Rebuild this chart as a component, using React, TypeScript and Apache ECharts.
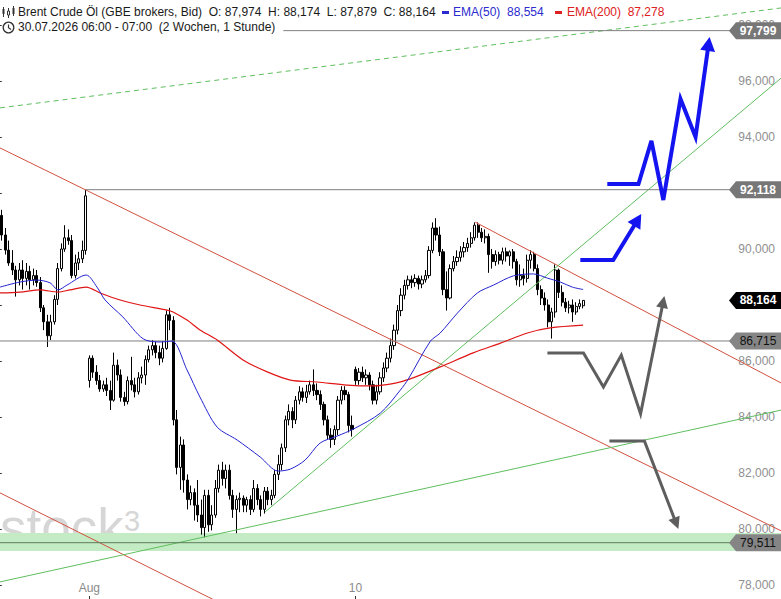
import React, { useEffect, useRef } from 'react';
import * as echarts from 'echarts';

// ---------- data ----------
const SLOT_COUNT = 223; // hourly slots across the full width (candles + projection space)
const PRICE_MIN = 77.5;
const PRICE_MAX = 98.893;

// [open, close, low, high]
const candles: number[][] = [
  [91.2, 90.5, 90.3, 91.4], [90.5, 89.96, 89.8, 90.75], [89.96, 89.5, 89.4, 90.3], [89.5, 89.25, 89.07, 89.96],
  [89.25, 88.9, 88.3, 89.4], [88.9, 89.25, 88.7, 89.5], [89.25, 88.95, 88.55, 89.6], [88.95, 89.2, 88.7, 89.5],
  [89.2, 88.9, 88.55, 89.4], [88.9, 89.05, 88.7, 89.3], [89.05, 88.8, 88.65, 89.25], [88.8, 87.9, 87.75, 89.0],
  [87.9, 87.4, 87.1, 88.0], [87.4, 86.9, 86.5, 87.65], [86.9, 87.4, 86.75, 87.65], [87.4, 88.2, 87.3, 88.35],
  [88.2, 89.3, 88.0, 89.5], [89.3, 90.0, 89.2, 90.2], [90.0, 90.4, 89.9, 90.85], [90.4, 90.3, 90.15, 90.7],
  [90.3, 89.05, 88.95, 90.5], [89.05, 89.5, 88.95, 89.8], [89.5, 89.65, 89.25, 89.9], [89.65, 89.95, 89.5, 90.3],
  [89.95, 91.9, 89.8, 92.118],
  [85.3, 86.1, 85.05, 86.2], [86.1, 85.6, 85.4, 86.2], [85.6, 85.3, 85.15, 85.85], [85.3, 85.0, 84.9, 85.5],
  [85.0, 85.15, 84.9, 85.3], [85.15, 84.95, 84.75, 85.4], [84.95, 84.6, 84.25, 85.3], [84.6, 85.85, 84.55, 86.3],
  [85.85, 85.5, 85.3, 86.05], [85.5, 84.7, 84.55, 85.7], [84.7, 84.55, 84.4, 84.9], [84.55, 85.3, 84.45, 85.45],
  [85.3, 85.15, 84.95, 86.15], [85.15, 84.9, 84.7, 85.4], [84.9, 85.4, 84.8, 85.6], [85.4, 85.5, 85.2, 85.8],
  [85.5, 86.05, 85.15, 86.2], [86.05, 86.4, 85.95, 86.55], [86.4, 86.55, 86.2, 86.75], [86.55, 86.3, 86.1, 86.7],
  [86.3, 86.1, 85.85, 86.55], [86.1, 86.45, 85.95, 86.7], [86.45, 87.65, 86.4, 87.8], [87.65, 87.45, 87.1, 87.9],
  [87.45, 83.9, 83.7, 87.6], [83.9, 82.2, 81.95, 84.25], [82.2, 83.0, 81.4, 83.3], [83.0, 81.75, 81.3, 83.2],
  [81.75, 81.05, 80.7, 81.95], [81.05, 81.3, 80.85, 81.55], [81.3, 80.85, 80.3, 81.45], [80.85, 80.5, 80.25, 81.75],
  [80.5, 80.05, 79.8, 81.05], [80.05, 81.2, 79.7, 81.4], [81.2, 80.15, 79.9, 81.4], [80.15, 80.5, 79.95, 80.85],
  [80.5, 81.45, 80.4, 81.75], [81.45, 82.1, 81.3, 82.3], [82.1, 81.8, 81.55, 82.4], [81.8, 82.1, 81.45, 82.3],
  [82.1, 81.2, 81.05, 82.3], [81.2, 80.7, 80.4, 81.4], [80.7, 81.05, 79.85, 81.2], [81.05, 81.1, 80.6, 81.3],
  [81.1, 80.85, 80.6, 81.2], [80.85, 81.05, 80.6, 81.15], [81.05, 80.7, 80.5, 81.2], [80.7, 81.45, 80.6, 81.75],
  [81.45, 81.05, 80.85, 81.6], [81.05, 80.7, 80.45, 81.2], [80.7, 81.35, 80.55, 81.5], [81.35, 81.05, 80.85, 81.5],
  [81.05, 81.2, 80.85, 81.4], [81.2, 81.95, 81.1, 82.1], [81.95, 82.3, 81.75, 82.65], [82.3, 82.9, 82.1, 83.05],
  [82.9, 83.9, 82.75, 84.05], [83.9, 84.2, 83.7, 84.45], [84.2, 83.9, 83.6, 84.35], [83.9, 84.6, 83.75, 84.75],
  [84.6, 84.9, 84.45, 85.1], [84.9, 84.7, 84.55, 85.05], [84.7, 84.9, 84.5, 85.15], [84.9, 85.15, 84.8, 85.3],
  [85.15, 84.95, 84.75, 85.7], [84.95, 84.8, 84.6, 85.2], [84.8, 84.45, 84.25, 84.95], [84.45, 83.9, 83.7, 84.55],
  [83.9, 83.35, 83.2, 84.05], [83.35, 83.2, 82.9, 83.6], [83.2, 83.55, 83.0, 83.7], [83.55, 84.6, 83.35, 84.75],
  [84.6, 84.95, 84.45, 85.1], [84.95, 84.8, 84.6, 85.1], [84.8, 83.7, 83.45, 84.9], [83.7, 83.55, 83.3, 84.05],
  [85.7, 85.3, 85.15, 85.8], [85.3, 85.6, 85.15, 85.75], [85.6, 85.4, 85.25, 85.8], [85.4, 85.5, 85.15, 85.7],
  [85.5, 85.15, 84.95, 85.6], [85.15, 84.6, 84.45, 85.3], [84.6, 84.9, 84.45, 85.15], [84.9, 85.4, 84.8, 85.6],
  [85.4, 85.75, 85.25, 85.95], [85.75, 86.1, 85.6, 86.3], [86.1, 86.55, 85.95, 86.8], [86.55, 87.1, 86.4, 87.3],
  [87.1, 87.8, 86.95, 88.0], [87.8, 88.35, 87.6, 88.6], [88.35, 88.7, 88.2, 88.9], [88.7, 88.9, 88.55, 89.05],
  [88.9, 88.8, 88.6, 89.05], [88.8, 88.95, 88.65, 89.1], [88.95, 88.75, 88.55, 89.05], [88.75, 88.9, 88.6, 89.05],
  [88.9, 89.05, 88.8, 89.25], [89.05, 89.95, 88.95, 90.1], [89.95, 90.75, 89.85, 90.95], [90.75, 90.5, 90.3, 91.1],
  [90.5, 89.9, 89.75, 90.8], [89.9, 88.55, 88.35, 90.0], [88.55, 88.25, 87.8, 89.2], [88.25, 89.3, 88.2, 89.45],
  [89.3, 89.55, 89.2, 89.75], [89.55, 89.7, 89.4, 89.95], [89.7, 89.9, 89.55, 90.1], [89.9, 90.05, 89.7, 90.25],
  [90.05, 90.2, 89.9, 90.4], [90.2, 90.4, 90.05, 90.6], [90.4, 90.85, 90.3, 90.95], [90.85, 90.6, 90.4, 90.95],
  [90.6, 90.4, 90.25, 90.75], [90.4, 90.45, 90.2, 90.7], [90.45, 89.8, 89.15, 90.55], [89.8, 89.55, 89.3, 90.0],
  [89.55, 89.8, 89.4, 89.95], [89.8, 89.6, 89.45, 89.9], [89.6, 89.9, 89.45, 90.05], [89.9, 89.75, 89.55, 90.05],
  [89.75, 89.9, 89.4, 89.95], [89.9, 89.55, 89.3, 90.0], [89.55, 88.9, 88.7, 89.65], [88.9, 89.05, 88.65, 89.45],
  [89.05, 88.95, 88.7, 89.3], [88.95, 89.6, 88.8, 89.8], [89.6, 89.8, 89.3, 89.95], [89.8, 89.3, 89.2, 89.9],
  [89.3, 88.55, 88.35, 89.45], [88.55, 88.25, 88.0, 88.7], [88.25, 88.0, 87.8, 88.45], [88.0, 87.4, 87.2, 88.2],
  [87.4, 87.75, 86.8, 87.9], [87.75, 89.25, 87.55, 89.45], [89.25, 88.45, 88.25, 89.3], [88.45, 88.1, 87.95, 88.7],
  [88.1, 87.9, 87.75, 88.25], [87.9, 88.0, 87.7, 88.15], [88.0, 87.75, 87.4, 88.2], [87.75, 87.95, 87.65, 88.1],
  [87.95, 88.05, 87.85, 88.2], [87.974, 88.164, 87.879, 88.174],
];

// [slot, price]
const ema50Points: number[][] = [
  [-0.5, 88.64], [5.2, 88.82], [10.1, 88.89], [13.8, 88.79], [16.1, 88.54], [18.6, 88.71], [24.1, 89.07],
  [27.2, 88.64], [29.5, 88.18], [34.6, 87.57], [40.4, 86.79], [45.2, 86.68], [48.6, 86.71], [52.9, 85.68],
  [56.6, 84.71], [61.5, 83.64], [67.2, 83.18], [73.8, 82.57], [78.9, 82.07], [82.4, 82.14], [86.6, 82.46],
  [90.9, 83.07], [95.8, 83.32], [100.4, 83.57], [108.1, 84.14], [113.8, 84.96], [116.1, 85.36], [122.4, 86.71],
  [125.2, 87.0], [130.1, 87.71], [135.8, 88.43], [140.4, 88.71], [146.1, 89.04], [151.8, 89.11], [155.8, 88.96],
  [159.5, 88.82], [162.9, 88.64],
];
const ema200Points: number[][] = [
  [-0.5, 88.43], [5.2, 88.46], [10.9, 88.54], [16.1, 88.46], [19.5, 88.54], [24.1, 88.64], [28.1, 88.43],
  [33.8, 88.18], [39.5, 88.0], [47.2, 87.82], [48.9, 87.75], [52.9, 87.46], [56.6, 87.11], [61.5, 86.75],
  [68.9, 86.04], [75.8, 85.61], [82.4, 85.32], [90.1, 85.25], [98.6, 85.14], [106.1, 85.11], [112.4, 85.21],
  [116.6, 85.36], [125.2, 85.79], [134.6, 86.29], [142.4, 86.64], [150.1, 87.0], [156.6, 87.18],
];
const ema50Last = 88.554;
const ema200Last = 87.278;

const xLabelIndex = [25, 101];
const xLabelText = ['Aug', '10'];
const priceTicks = [78, 80, 82, 84, 86, 88, 90, 92, 94, 96, 98];

const levelValues = [97.799, 92.118, 86.715, 79.511];
const levelFrom = [80.4, 24, -0.5, -0.5];
const supportZone = [79.21, 79.86];

const redTrendLines: number[][][] = [
  [[-0.5, 93.61], [222.6, 79.93]],
  [[135.2, 90.96], [222.6, 85.21]],
  [[-0.5, 81.29], [65.2, 77.18]],
];
const greenTrendLines: number[][][] = [
  [[75.2, 80.61], [222.6, 96.11]],
  [[-0.5, 78.11], [222.6, 84.25]],
];
const greenDashedLine: number[][] = [[-0.5, 95.04], [222.6, 98.61]];

const bullPaths: number[][][] = [
  [[165.2, 89.61], [174.6, 89.61], [182.6, 91.25]],
  [[172.9, 92.32], [181.8, 92.32], [185.5, 93.86], [188.9, 91.75], [193.8, 95.36], [198.1, 94.0], [202.1, 97.57]],
];
const bearPaths: number[][][] = [
  [[155.8, 86.29], [166.1, 86.29], [171.8, 85.07], [176.9, 86.21], [182.4, 84.11], [189.2, 88.32]],
  [[173.5, 83.14], [183.5, 83.14], [193.2, 80.0]],
];

// ---------- helpers ----------
const FONT = 'Arial, "Liberation Sans", sans-serif';
const fmt = (v: number) => v.toFixed(3).replace('.', ',');
const RED_LINE = '#d2503f';
const GREEN_LINE = '#5fbf5f';
const LEVEL_GRAY = '#7f7f7f';

function arrowElements(api: any, pts: number[][], color: string, width: number, headLen: number, headW: number) {
  const px = pts.map((p) => api.coord(p));
  const n = px.length;
  const tip = px[n - 1];
  const prev = px[n - 2];
  const dx = tip[0] - prev[0];
  const dy = tip[1] - prev[1];
  const len = Math.hypot(dx, dy) || 1;
  const ux = dx / len;
  const uy = dy / len;
  const nx = -uy;
  const ny = ux;
  const bx = tip[0] - ux * headLen;
  const by = tip[1] - uy * headLen;
  const linePts = px.slice(0, n - 1).concat([[bx + ux * 2, by + uy * 2]]);
  return [
    {
      type: 'polyline',
      shape: { points: linePts },
      style: { stroke: color, lineWidth: width, fill: 'none', lineJoin: 'miter' },
    },
    {
      type: 'polygon',
      shape: { points: [tip, [bx + (nx * headW) / 2, by + (ny * headW) / 2], [bx - (nx * headW) / 2, by - (ny * headW) / 2]] },
      style: { fill: color },
    },
  ];
}

function segEl(api: any, a: number[], b: number[], stroke: string, width: number, dash?: number[]) {
  const p1 = api.coord(a);
  const p2 = api.coord(b);
  return {
    type: 'line',
    shape: { x1: p1[0], y1: p1[1], x2: p2[0], y2: p2[1] },
    style: { stroke, lineWidth: width, lineDash: dash || null },
  };
}

function buildOption(): any {
  const slots = Array.from({ length: SLOT_COUNT }, (_, i) => String(i));
  const lastIdx = candles.length - 1;
  const last = candles[lastIdx];
  const lastClose = last[1];
  const ema50Data = ema50Points.concat([[lastIdx, ema50Last]]);
  const ema200Data = ema200Points.concat([[lastIdx, ema200Last]]);
  const showIdx = (i: number) => xLabelIndex.indexOf(i) >= 0;

  const tagItems = [
    { v: levelValues[0], bg: '#777777', fg: '#ffffff', bold: true },
    { v: levelValues[1], bg: '#777777', fg: '#ffffff', bold: true },
    { v: lastClose, bg: '#000000', fg: '#ffffff', bold: true },
    { v: levelValues[2], bg: '#858585', fg: '#111111', bold: false },
    { v: levelValues[3], bg: '#858585', fg: '#111111', bold: false },
  ];
  // tick labels that the right-hand tags fully hide are not printed
  const hiddenUnder = [levelValues[1], lastClose];
  const priceLabels = priceTicks.filter((t) => hiddenUnder.every((h) => Math.abs(h - t) > 0.3));

  const overlayBase = {
    type: 'custom',
    coordinateSystem: 'cartesian2d',
    xAxisIndex: 1,
    yAxisIndex: 0,
    data: [[0, 90]],
    encode: { x: 0, y: 1 },
    silent: true,
    clip: false,
    animation: false,
  };

  return {
    animation: false,
    backgroundColor: '#ffffff',
    grid: { left: 0, right: 0, top: 0, bottom: 0, containLabel: false, outerBoundsMode: 'none' },
    xAxis: [
      {
        type: 'category',
        data: slots,
        boundaryGap: true,
        axisLine: { show: false },
        splitLine: { show: false },
        axisTick: {
          show: true,
          inside: true,
          length: 3,
          alignWithLabel: true,
          interval: (i: number) => showIdx(i),
          lineStyle: { color: '#333' },
        },
        axisLabel: {
          show: true,
          inside: true,
          margin: 5,
          interval: (i: number) => showIdx(i),
          formatter: (_v: string, i: number) => {
            const k = xLabelIndex.indexOf(i);
            return k >= 0 ? xLabelText[k] : '';
          },
          color: '#8a8a8a',
          fontSize: 12,
          fontFamily: FONT,
        },
      },
      { type: 'value', min: -0.5, max: SLOT_COUNT - 0.5, show: false },
    ],
    yAxis: {
      type: 'value',
      position: 'right',
      min: PRICE_MIN,
      max: PRICE_MAX,
      axisLine: { show: false },
      splitLine: { show: false },
      axisTick: { show: true, inside: true, length: 4, customValues: priceTicks, lineStyle: { color: '#333' } },
      axisLabel: {
        inside: true,
        margin: 6,
        customValues: priceLabels,
        formatter: (v: number) => fmt(v),
        color: '#8f8f8f',
        fontSize: 12,
        fontFamily: FONT,
      },
    },
    graphic: {
      elements: [
        // watermark
        { type: 'text', x: 0, y: 527, z: 0, silent: true, style: { text: 'stock', font: '53px ' + FONT, fill: '#d6d6d6', verticalAlign: 'middle' } },
        { type: 'text', x: 124, y: 521, z: 0, silent: true, style: { text: '3', font: '29px ' + FONT, fill: '#d6d6d6', verticalAlign: 'middle' } },
        // header icons
        { type: 'line', z: 100, shape: { x1: 3.5, y1: 7, x2: 3.5, y2: 17 }, style: { stroke: '#333', lineWidth: 1 } },
        { type: 'rect', z: 100, shape: { x: 2.5, y: 9, width: 2, height: 5 }, style: { fill: '#333' } },
        { type: 'line', z: 100, shape: { x1: 8.5, y1: 8, x2: 8.5, y2: 18 }, style: { stroke: '#333', lineWidth: 1 } },
        { type: 'rect', z: 100, shape: { x: 7.5, y: 11, width: 2, height: 4 }, style: { fill: '#fff', stroke: '#333', lineWidth: 1 } },
        { type: 'line', z: 100, shape: { x1: 13.5, y1: 6, x2: 13.5, y2: 16 }, style: { stroke: '#333', lineWidth: 1 } },
        { type: 'rect', z: 100, shape: { x: 12.5, y: 8, width: 2, height: 6 }, style: { fill: '#333' } },
        { type: 'circle', z: 100, shape: { cx: 8.5, cy: 27.5, r: 5.3 }, style: { fill: 'none', stroke: '#333', lineWidth: 1.3 } },
        { type: 'polyline', z: 100, shape: { points: [[8.5, 24.5], [8.5, 27.8], [11, 29.5]] }, style: { fill: 'none', stroke: '#333', lineWidth: 1.2 } },
        // header texts
        {
          type: 'text', x: 18, y: 12, z: 100,
          style: {
            text: `Brent Crude Öl (GBE brokers, Bid)  O: ${fmt(last[0])}  H: ${fmt(last[3])}  L: ${fmt(last[2])}  C: ${fmt(last[1])}`,
            font: '12px ' + FONT, fill: '#1a1a1a', verticalAlign: 'middle',
          },
        },
        { type: 'rect', z: 100, shape: { x: 442, y: 11, width: 7, height: 3 }, style: { fill: '#2b2bd0' } },
        { type: 'text', x: 453, y: 12, z: 100, style: { text: `EMA(50)  ${fmt(ema50Last)}`, font: '12px ' + FONT, fill: '#2b2bd0', verticalAlign: 'middle' } },
        { type: 'rect', z: 100, shape: { x: 555, y: 11, width: 7, height: 3 }, style: { fill: '#dd2020' } },
        { type: 'text', x: 567, y: 12, z: 100, style: { text: `EMA(200)  ${fmt(ema200Last)}`, font: '12px ' + FONT, fill: '#dd2020', verticalAlign: 'middle' } },
        { type: 'text', x: 18, y: 27, z: 100, style: { text: '30.07.2026 06:00 - 07:00  (2 Wochen, 1 Stunde)', font: '12px ' + FONT, fill: '#1a1a1a', verticalAlign: 'middle' } },
      ],
    },
    series: [
      {
        // support zone background
        ...overlayBase,
        z: 1,
        renderItem: (_p: any, api: any) => {
          const w = api.getWidth();
          const yTop = api.coord([0, supportZone[1]])[1];
          const yBot = api.coord([0, supportZone[0]])[1];
          return {
            type: 'group',
            children: [{ type: 'rect', shape: { x: 0, y: yTop, width: w, height: yBot - yTop }, style: { fill: '#c4ecc4' } }],
          };
        },
      },
      {
        type: 'candlestick',
        xAxisIndex: 0,
        yAxisIndex: 0,
        data: candles,
        barWidth: 2.6,
        silent: true,
        z: 2,
        itemStyle: { color: '#ffffff', color0: '#000000', borderColor: '#000000', borderColor0: '#000000', borderWidth: 1 },
      },
      {
        // trendlines and levels
        ...overlayBase,
        z: 3,
        renderItem: (_p: any, api: any) => {
          const children: any[] = [];
          const right = SLOT_COUNT - 0.5;
          redTrendLines.forEach((s) => children.push(segEl(api, s[0], s[1], RED_LINE, 1)));
          greenTrendLines.forEach((s) => children.push(segEl(api, s[0], s[1], GREEN_LINE, 1)));
          children.push(segEl(api, greenDashedLine[0], greenDashedLine[1], GREEN_LINE, 1, [5, 4]));
          levelValues.forEach((v, k) => {
            const color = k === 3 ? '#5d7a5d' : LEVEL_GRAY;
            children.push(segEl(api, [levelFrom[k], v], [right, v], color, 1));
          });
          return { type: 'group', children };
        },
      },
      {
        type: 'line',
        xAxisIndex: 1,
        yAxisIndex: 0,
        data: ema200Data,
        showSymbol: false,
        symbol: 'none',
        smooth: 0.3,
        silent: true,
        z: 4,
        lineStyle: { color: '#e01515', width: 1.2 },
      },
      {
        type: 'line',
        xAxisIndex: 1,
        yAxisIndex: 0,
        data: ema50Data,
        showSymbol: false,
        symbol: 'none',
        smooth: 0.3,
        silent: true,
        z: 4,
        lineStyle: { color: '#2424d0', width: 1 },
      },
      {
        // scenario arrows
        ...overlayBase,
        z: 5,
        renderItem: (_p: any, api: any) => {
          let children: any[] = [];
          bullPaths.forEach((p) => { children = children.concat(arrowElements(api, p, '#1414f0', 4, 14, 15)); });
          bearPaths.forEach((p) => { children = children.concat(arrowElements(api, p, '#5e5e5e', 3, 12, 12)); });
          return { type: 'group', children };
        },
      },
      {
        // price tags on the right
        ...overlayBase,
        z: 6,
        renderItem: (_p: any, api: any) => {
          const w = api.getWidth();
          const children: any[] = [];
          tagItems.forEach((t) => {
            const y = api.coord([0, t.v])[1];
            const h = 8.5;
            children.push({
              type: 'polygon',
              shape: { points: [[w - 52, y], [w - 45, y - h], [w, y - h], [w, y + h], [w - 45, y + h]] },
              style: { fill: t.bg },
            });
            children.push({
              type: 'text',
              x: w - 23,
              y,
              style: {
                text: fmt(t.v),
                fill: t.fg,
                font: (t.bold ? 'bold ' : '') + '12px ' + FONT,
                align: 'center',
                verticalAlign: 'middle',
              },
            });
          });
          return { type: 'group', children };
        },
      },
    ],
  };
}

export default function App() {
  const ref = useRef<HTMLDivElement>(null);
  useEffect(() => {
    if (!ref.current) return;
    const chart = echarts.init(ref.current, undefined, { renderer: 'svg' });
    chart.setOption(buildOption());
    return () => {
      chart.dispose();
    };
  }, []);
  return <div ref={ref} style={{ position: 'fixed', left: 0, top: 0, width: 781, height: 599 }} />;
}
